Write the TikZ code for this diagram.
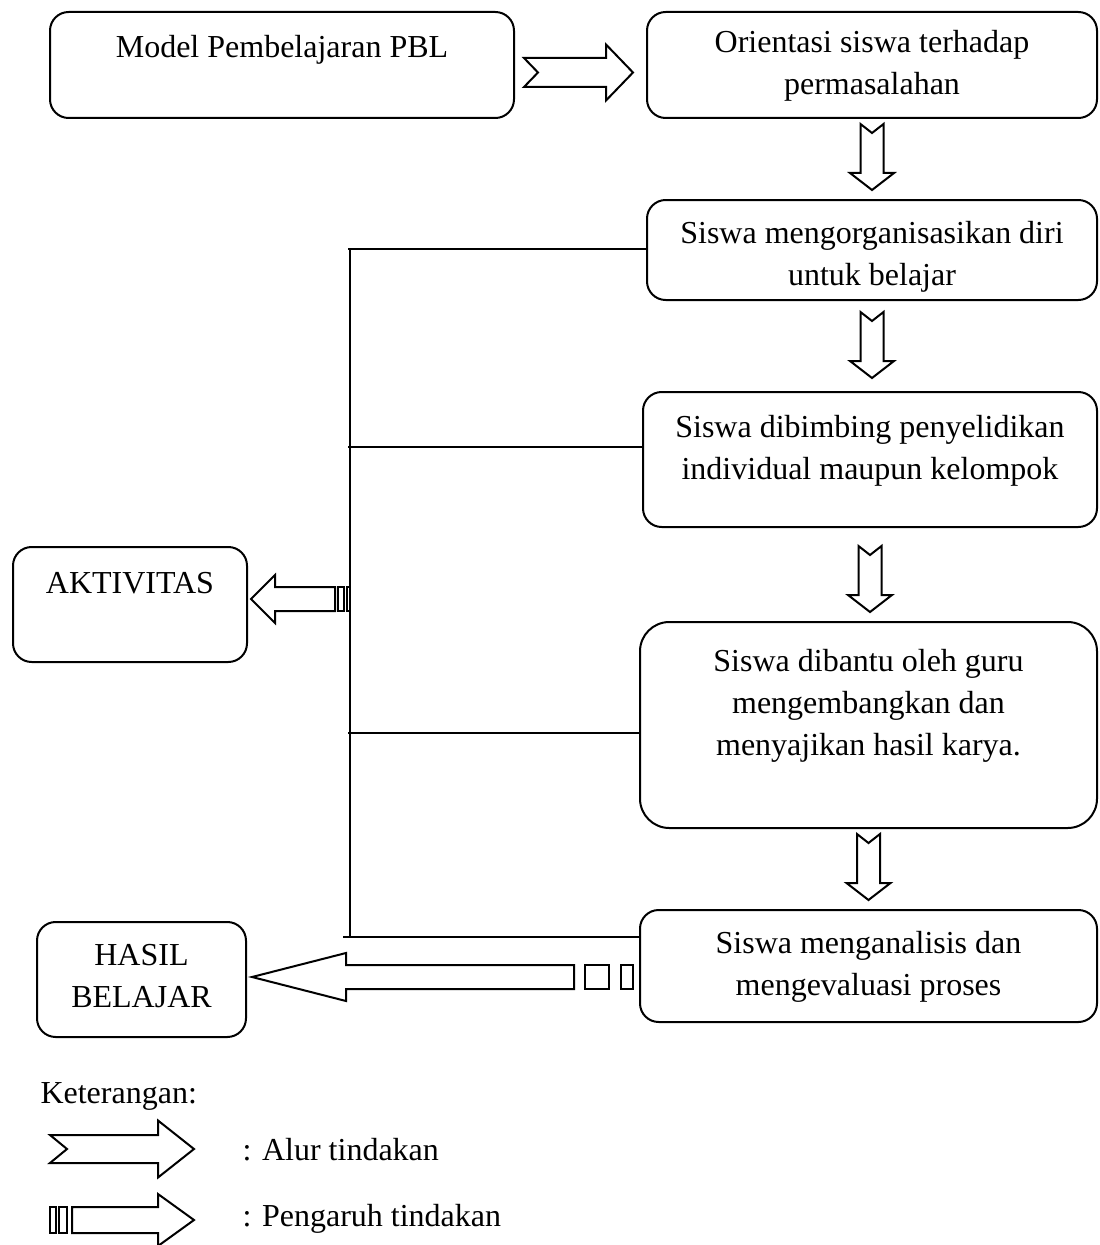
\documentclass[tikz,border=0pt]{standalone}
\usepackage{fontspec}
\setmainfont{Liberation Serif}
\usetikzlibrary{calc}

\newcommand{\boxlines}[1]{\begin{tabular}[t]{@{}c@{}}#1\end{tabular}}

\tikzset{
    arrlen/.store in=\arrlen, arrshaft/.store in=\arrshaft, arrhead/.store in=\arrhead,
    arrheadlen/.store in=\arrheadlen, arrnotch/.store in=\arrnotch,
    arrstripes/.store in=\arrstripes, arrtail/.store in=\arrtail,
    arrlen=66, arrshaft=11.5, arrhead=22, arrheadlen=17, arrnotch=9,
    arrstripes={0/3,6/12}, arrtail=15,
    blockline/.style={line width=0.75pt, line join=miter, fill=white},
    alur/.pic={
        \draw[blockline] (0,-\arrshaft) -- ({\arrlen-\arrheadlen},-\arrshaft) -- ({\arrlen-\arrheadlen},-\arrhead)
            -- (\arrlen,0) -- ({\arrlen-\arrheadlen},\arrhead) -- ({\arrlen-\arrheadlen},\arrshaft) -- (0,\arrshaft) -- (\arrnotch,0) -- cycle;
    },
    pengaruh/.pic={
        \foreach \a/\b in \arrstripes {\draw[blockline] (\a,-\arrshaft) rectangle (\b,\arrshaft);}
        \draw[blockline] (\arrtail,-\arrshaft) -- ({\arrlen-\arrheadlen},-\arrshaft) -- ({\arrlen-\arrheadlen},-\arrhead)
            -- (\arrlen,0) -- ({\arrlen-\arrheadlen},\arrhead) -- ({\arrlen-\arrheadlen},\arrshaft) -- (\arrtail,\arrshaft) -- cycle;
    }
}

\begin{document}
\begin{tikzpicture}[
    x=0.375pt, y=-0.375pt,
    font=\fontsize{12pt}{15.75pt}\selectfont,
    box/.style={rectangle, draw, rounded corners=7pt, line width=0.75pt, inner sep=0pt, text height=0pt},
    link/.style={line width=0.75pt},
    legendtext/.style={anchor=base west, inner sep=0pt}
]
    \useasboundingbox (0,0) rectangle (1099,1245);

    % boxes
    \node[box, minimum width=174pt, minimum height=39.75pt, text depth=5.25pt] (model) at (282,65) {Model Pembelajaran PBL};
    \node[box, minimum width=168.75pt, minimum height=39.75pt, text depth=9pt] (orient) at (872,65) {\boxlines{Orientasi siswa terhadap\\ permasalahan}};
    \node[box, minimum width=168.75pt, minimum height=37.5pt, text depth=5.25pt] (organisasi) at (872,250) {\boxlines{Siswa mengorganisasikan diri\\ untuk belajar}};
    \node[box, minimum width=170.25pt, minimum height=50.625pt, text depth=16.875pt] (bimbing) at (870,459.5) {\boxlines{Siswa dibimbing penyelidikan\\ individual maupun kelompok}};
    \node[box, rounded corners=11pt, minimum width=171.375pt, minimum height=77.25pt, text depth=40pt] (bantu) at (868.5,725) {\boxlines{Siswa dibantu oleh guru\\ mengembangkan dan\\ menyajikan hasil karya.}};
    \node[box, minimum width=171.375pt, minimum height=42pt, text depth=9.75pt] (analisis) at (868.5,966) {\boxlines{Siswa menganalisis dan\\ mengevaluasi proses}};
    \node[box, minimum width=87.75pt, minimum height=43.125pt, text depth=8.625pt] (aktivitas) at (130,604.5) {AKTIVITAS};
    \node[box, minimum width=78.375pt, minimum height=43.125pt, text depth=10.875pt] (hasil) at (141.5,979.5) {\boxlines{HASIL\\ BELAJAR}};

    % alur tindakan
    \pic[arrlen=109, arrshaft=14.5, arrhead=28, arrheadlen=27, arrnotch=14] at ($(model.east)+(9,7.5)$) {alur};
    \pic[rotate=-90] at ($(orient.south)+(0,5)$) {alur};
    \pic[rotate=-90] at ($(organisasi.south)+(0,11)$) {alur};
    \pic[rotate=-90] at ($(bimbing.south)+(0,18)$) {alur};
    \pic[rotate=-90] at ($(bantu.south)+(0,5)$) {alur};

    % garis aktivitas
    \coordinate (spinetop) at (350,249);
    \coordinate (tap2) at (350,447);
    \coordinate (tap3) at (350,733);
    \coordinate (spinebot) at (350,937);
    \draw[link] (spinetop) -- (spinebot);
    \draw[link] ($(spinetop)+(-2,0)$) -- (spinetop -| organisasi.west);
    \draw[link] ($(tap2)+(-2,0)$) -- (tap2 -| bimbing.west);
    \draw[link] ($(tap3)+(-2,0)$) -- (tap3 -| bantu.west);
    \draw[link] ($(spinebot)+(-7,0)$) -- (spinebot -| analisis.west);

    % pengaruh tindakan
    \pic[rotate=180, arrlen=99, arrshaft=12, arrhead=24, arrheadlen=24, arrstripes={0/3,6/12}, arrtail=15] at ($(aktivitas.east)+(102,-5.5)$) {pengaruh};
    \pic[rotate=180, arrlen=381, arrshaft=12, arrhead=24, arrheadlen=94, arrstripes={0/12,24/48}, arrtail=59] at ($(hasil.east)+(386,-2.5)$) {pengaruh};

    % keterangan
    \node[legendtext] (keterangan) at (40,1103) {Keterangan:};
    \node[legendtext] (alurlbl) at (242,1160) {: Alur tindakan};
    \node[legendtext] (pengaruhlbl) at (242,1226) {: Pengaruh tindakan};
    \pic[arrlen=144, arrshaft=14, arrhead=28.5, arrheadlen=36, arrnotch=17] at ($(alurlbl.base west)+(-192,-11)$) {alur};
    \pic[arrlen=144, arrshaft=13, arrhead=26, arrheadlen=36, arrstripes={0/6,9/17}, arrtail=22] at ($(pengaruhlbl.base west)+(-192,-6)$) {pengaruh};
\end{tikzpicture}
\end{document}
